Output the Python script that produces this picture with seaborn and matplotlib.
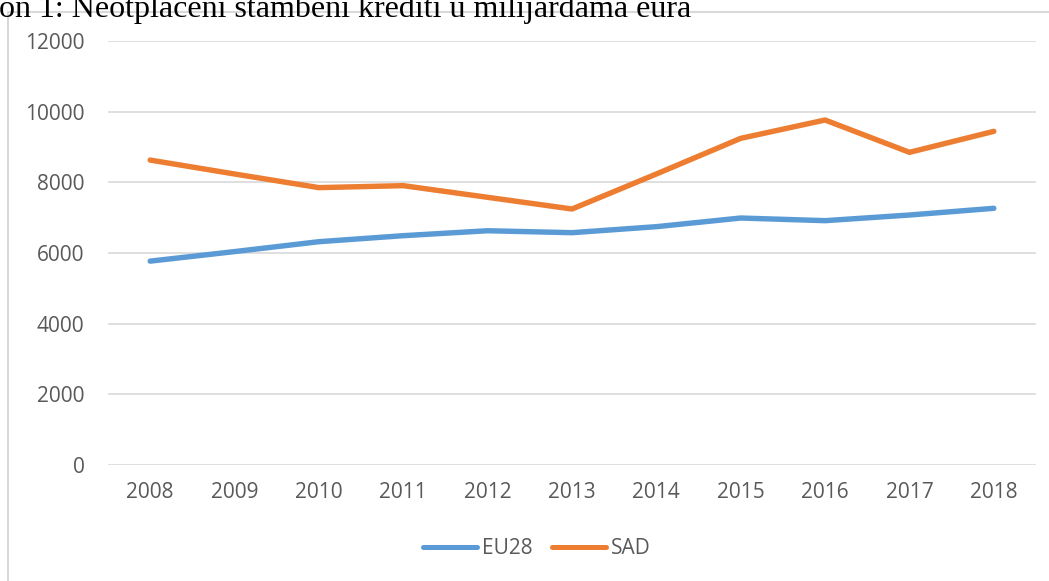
import matplotlib
matplotlib.use("Agg")
import matplotlib.pyplot as plt
import seaborn as sns
import pandas as pd
from matplotlib.patches import Rectangle
from matplotlib.lines import Line2D

years = [2008, 2009, 2010, 2011, 2012, 2013, 2014, 2015, 2016, 2017, 2018]
eu28 = [5770, 6040, 6320, 6490, 6630, 6575, 6745, 6990, 6915, 7075, 7265]
sad = [8630, 8236, 7850, 7906, 7576, 7245, 8236, 9245, 9764, 8849, 9443]
series_names = ["EU28", "SAD"]
colors = ["#5B9BD5", "#ED7D31"]
yticks = [0, 2000, 4000, 6000, 8000, 10000, 12000]
title = "on 1: Neotplaćeni stambeni krediti u milijardama eura"

df = pd.DataFrame({
    "Godina": years * 2,
    "Vrijednost": eu28 + sad,
    "Serija": [series_names[0]] * len(years) + [series_names[1]] * len(years),
})

sns.set_theme(style="white")
plt.rcParams["font.family"] = ["Open Sans", "DejaVu Sans"]

W, H = 1049, 581
fig = plt.figure(figsize=(W / 100, H / 100), dpi=100)
ax = fig.add_axes([108 / W, 1 - 465 / H, (1036 - 108) / W, (465 - 41) / H])

sns.lineplot(data=df, x="Godina", y="Vrijednost", hue="Serija",
             palette=colors, linewidth=3.9, ax=ax, legend=False,
             solid_capstyle="round", solid_joinstyle="round")

ax.set_xlim(2007.5, 2018.5)
ax.set_ylim(0, 12000)
ax.set_yticks(yticks)
ax.set_xticks(years)
ax.set_xticklabels([str(y) for y in years])
ax.grid(axis="y", color="#D9D9D9", linewidth=1.2)
ax.grid(axis="x", visible=False)
ax.set_axisbelow(True)
for s in ax.spines.values():
    s.set_visible(False)
ax.tick_params(axis="both", length=0, labelsize=15, colors="#595959")
ax.tick_params(axis="y", pad=17)
ax.tick_params(axis="x", pad=12)
ax.set_xlabel("")
ax.set_ylabel("")

handles = [Line2D([0], [0], color=c, lw=3.6, solid_capstyle="round") for c in colors]
fig.legend(handles, series_names, loc="center", bbox_to_anchor=(537 / W, 1 - 549 / H),
           ncol=2, frameon=False, fontsize=15, handlelength=2.6, handletextpad=0.25,
           columnspacing=0.9, labelcolor="#595959")

# outer chart border (cropped on right and bottom)
fig.patches.append(Rectangle((8 / W, -0.05), 1.1, 1 - 12 / H + 0.05,
                             transform=fig.transFigure, fill=False,
                             edgecolor="#D9D9D9", linewidth=1.5))

fig.text(-1 / W, 1 - 17 / H, title, fontsize=23, family=["Liberation Serif"],
         color="black", va="baseline", ha="left")

fig.savefig("out.png", dpi=100)
